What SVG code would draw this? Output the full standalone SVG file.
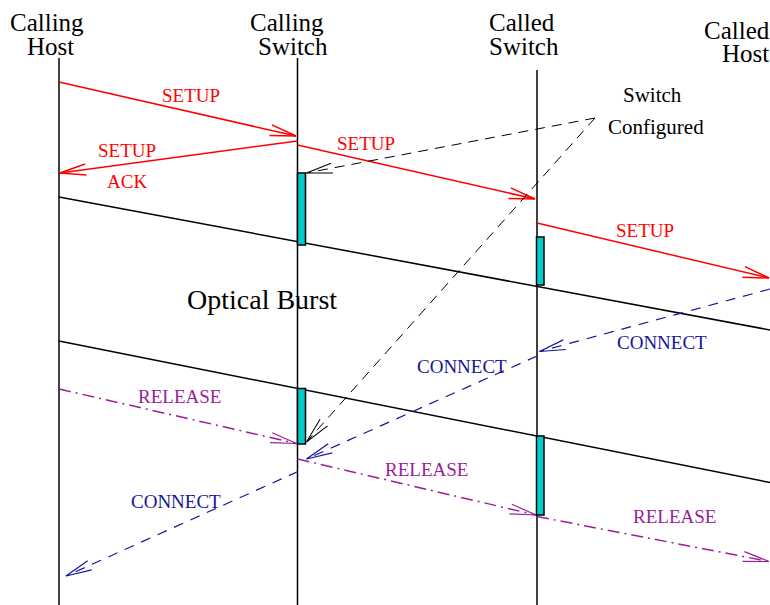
<svg xmlns="http://www.w3.org/2000/svg" width="770" height="605" viewBox="0 0 770 605">
<style>
text{font-family:"Liberation Serif","Times New Roman",serif}
.hdr{font-size:25px;fill:#000}
.lbl{font-size:19px}
.red{fill:#ff0000}
.blu{fill:#14149a}
.pur{fill:#991f99}
.life{stroke:#000;stroke-width:1.5;fill:none}
.burst{stroke:#000;stroke-width:1.5;fill:none}
.setup{stroke:#ff0000;stroke-width:1.5;fill:none;marker-end:url(#aRed)}
.cfg{stroke:#000;stroke-width:1;fill:none;stroke-dasharray:10 7;marker-end:url(#aBlk)}
.conn{stroke:#14149a;stroke-width:1.2;fill:none;stroke-dasharray:10 8;marker-end:url(#aBlu)}
.rel{stroke:#991f99;stroke-width:1.5;fill:none;stroke-dasharray:12 5 2 5;marker-end:url(#aPur)}
.box{fill:#00cccc;stroke:#000;stroke-width:1.5}
</style>
<defs>
<marker id="aRed" markerUnits="userSpaceOnUse" orient="auto" refX="0" refY="0" markerWidth="30" markerHeight="14" viewBox="-28 -7 30 14" overflow="visible"><path d="M-26,-5.5 L0,0 L-26,5.5" fill="none" stroke="#ff0000" stroke-width="1.5"/></marker>
<marker id="aBlk" markerUnits="userSpaceOnUse" orient="auto" refX="0" refY="0" markerWidth="30" markerHeight="14" viewBox="-28 -7 30 14" overflow="visible"><path d="M-26,-5 L0,0 L-26,5" fill="none" stroke="#000" stroke-width="1"/></marker>
<marker id="aBlu" markerUnits="userSpaceOnUse" orient="auto" refX="0" refY="0" markerWidth="30" markerHeight="14" viewBox="-28 -7 30 14" overflow="visible"><path d="M-26,-5 L0,0 L-26,5" fill="none" stroke="#14149a" stroke-width="1.2"/></marker>
<marker id="aPur" markerUnits="userSpaceOnUse" orient="auto" refX="0" refY="0" markerWidth="30" markerHeight="14" viewBox="-28 -7 30 14" overflow="visible"><path d="M-26,-5 L0,0 L-26,5" fill="none" stroke="#991f99" stroke-width="1.2"/></marker>
</defs>
<rect width="770" height="605" fill="#fff"/>

<g id="calling-host">
<text class="hdr" x="10" y="31">Calling</text>
<text class="hdr" x="27" y="55">Host</text>
<line class="life" x1="59" y1="58" x2="59" y2="605"/>
</g>
<g id="calling-switch">
<text class="hdr" x="250" y="31">Calling</text>
<text class="hdr" x="258" y="55">Switch</text>
<line class="life" x1="297.5" y1="58" x2="297.5" y2="605"/>
</g>
<g id="called-switch">
<text class="hdr" x="489" y="31">Called</text>
<text class="hdr" x="489" y="55">Switch</text>
<line class="life" x1="537" y1="70" x2="537" y2="605"/>
</g>
<g id="called-host">
<text class="hdr" x="704" y="39">Called</text>
<text class="hdr" x="722" y="62">Host</text>
</g>

<g id="optical-burst">
<line class="burst" x1="59" y1="197" x2="770" y2="330"/>
<line class="burst" x1="59" y1="341" x2="770" y2="482.5"/>
<text x="187" y="309" style="font-size:28px">Optical Burst</text>
</g>

<g id="switch-configured">
<text x="623" y="102" style="font-size:21px">Switch</text>
<text x="608" y="134" style="font-size:21px">Configured</text>
</g>

<g id="connectors">
<path class="setup" d="M59,82 L296,136"/>
<path class="setup" d="M297.5,141 L60,173"/>
<path class="setup" d="M297.5,145 L535,199"/>
<path class="setup" d="M537,223 L769,278"/>
<path class="cfg" d="M595,118 L306.5,173"/>
<path class="cfg" d="M595,118 L306.5,442"/>
<path class="conn" d="M770,289 L539.5,351.5"/>
<path class="conn" d="M537,356 L306.5,459"/>
<path class="conn" d="M298,471.5 L66,576"/>
<path class="rel" d="M59,389 L296.5,443.5"/>
<path class="rel" d="M297.5,459 L536,515"/>
<path class="rel" d="M537,516.5 L769,561.5"/>
</g>

<g id="labels">
<text class="lbl red" x="162" y="102">SETUP</text>
<text class="lbl red" x="98" y="157">SETUP</text>
<text class="lbl red" x="107" y="188">ACK</text>
<text class="lbl red" x="337" y="150">SETUP</text>
<text class="lbl red" x="616" y="237">SETUP</text>
<text class="lbl blu" x="617" y="349">CONNECT</text>
<text class="lbl blu" x="417" y="373">CONNECT</text>
<text class="lbl blu" x="131" y="508">CONNECT</text>
<text class="lbl pur" x="138" y="403">RELEASE</text>
<text class="lbl pur" x="385" y="476">RELEASE</text>
<text class="lbl pur" x="633" y="523">RELEASE</text>
</g>

<g id="burst-windows">
<rect class="box" x="297.5" y="173" width="8" height="72"/>
<rect class="box" x="536.5" y="237" width="7.5" height="48"/>
<rect class="box" x="297.5" y="388.5" width="8" height="55.5"/>
<rect class="box" x="536.5" y="436" width="7.5" height="79"/>
</g>
</svg>
